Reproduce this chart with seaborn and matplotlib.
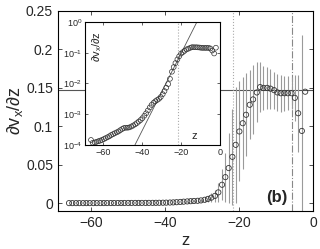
import matplotlib
matplotlib.use("Agg")
import matplotlib.pyplot as plt
import seaborn as sns
import numpy as np
from matplotlib.ticker import FormatStrFormatter, LogLocator, NullLocator

# --- data ---
z = [-66.0, -65.1, -64.1, -63.2, -62.2, -61.3, -60.4, -59.4, -58.5, -57.5,
     -56.6, -55.7, -54.7, -53.8, -52.8, -51.9, -51.0, -50.0, -49.1, -48.1,
     -47.2, -46.3, -45.3, -44.4, -43.4, -42.5, -41.6, -40.6, -39.7, -38.7,
     -37.8, -36.9, -35.9, -35.0, -34.0, -33.1, -32.2, -31.2, -30.3, -29.3,
     -28.4, -27.5, -26.5, -25.6, -24.6, -23.7, -22.8, -21.8, -20.9, -19.9,
     -19.0, -18.1, -17.1, -16.2, -15.2, -14.3, -13.4, -12.4, -11.5, -10.5,
     -9.6, -8.7, -7.7, -6.8, -5.8, -4.9, -4.0, -3.0, -2.1]

dvdz = [1.45e-4, 1.17e-4, 1.20e-4, 1.26e-4, 1.32e-4, 1.38e-4, 1.45e-4, 1.55e-4, 1.66e-4, 1.78e-4,
        1.91e-4, 2.09e-4, 2.24e-4, 2.40e-4, 2.57e-4, 2.75e-4, 3.02e-4, 3.31e-4, 3.55e-4, 3.63e-4,
        3.63e-4, 3.72e-4, 3.98e-4, 4.27e-4, 4.68e-4, 5.13e-4, 5.75e-4, 6.46e-4, 7.41e-4, 8.91e-4,
        1.07e-3, 1.32e-3, 1.66e-3, 2.00e-3, 2.34e-3, 2.63e-3, 2.88e-3, 3.16e-3, 3.63e-3, 4.47e-3,
        5.62e-3, 7.24e-3, 9.55e-3, 1.41e-2, 2.40e-2, 3.39e-2, 4.57e-2, 6.03e-2, 7.59e-2, 9.33e-2,
        0.104, 0.115, 0.128, 0.135, 0.144, 0.151, 0.150, 0.150, 0.149, 0.147,
        0.144, 0.143, 0.143, 0.143, 0.143, 0.137, 0.117, 0.094, 0.145]

err = [0, 0, 0, 0, 0, 0, 0, 0, 0, 0,
       0, 0, 0, 0, 0, 0, 0, 0, 0, 0,
       0, 0, 0, 0, 0, 0, 0, 0, 0, 0,
       0, 0, 0.0005, 0.0007, 0.0009, 0.001, 0.0012, 0.0015, 0.002, 0.003,
       0.004, 0.006, 0.008, 0.012, 0.02, 0.032, 0.045, 0.062, 0.075, 0.065,
       0.06, 0.054, 0.045, 0.045, 0.039, 0.032, 0.029, 0.027, 0.026, 0.024,
       0.024, 0.024, 0.023, 0.022, 0.021, 0.03, 0.05, 0.125, 0.0]

plateau = 0.147          # horizontal reference level
z_dotted = -21.6         # dotted vertical marker
z_dashed = -5.6          # dash-dot vertical marker
fit_z = [-43.5, -11.8]   # exponential guide in the inset
fit_v = [1e-4, 1.0]

sns.set_theme(style="ticks")
plt.rcParams["font.family"] = ["Liberation Sans", "DejaVu Sans"]
plt.rcParams["mathtext.default"] = "regular"
plt.rcParams["xtick.direction"] = "in"
plt.rcParams["ytick.direction"] = "in"
plt.rcParams["axes.edgecolor"] = "black"
plt.rcParams["axes.linewidth"] = 0.8

fig = plt.figure(figsize=(3.2, 2.49), dpi=100)
ax = fig.add_axes([0.181, 0.153, 0.797, 0.803])

ax.errorbar(z, dvdz, yerr=err, fmt="none", ecolor="#9a9a9a", elinewidth=0.8, capsize=0, zorder=1)
ax.axhline(plateau, color="#555555", lw=0.8, zorder=0)
ax.axvline(z_dotted, color="#aaaaaa", lw=0.8, ls=":", zorder=0)
ax.axvline(z_dashed, color="#888888", lw=0.8, ls="-.", zorder=0)
sns.scatterplot(x=z, y=dvdz, ax=ax, marker="o", s=14, facecolor="none",
                edgecolor="#333333", linewidth=0.6, zorder=3)

ax.set_xlim(-69, 0)
ax.set_ylim(-0.01, 0.25)
ax.set_xticks([-60, -40, -20, 0])
ax.set_yticks([0, 0.05, 0.1, 0.15, 0.2, 0.25])
ax.yaxis.set_major_formatter(FormatStrFormatter("%g"))
ax.tick_params(labelsize=10, length=3, width=0.6, top=True, right=True, color="#333333")
ax.set_xlabel("z", fontsize=12, labelpad=2)
ax.set_ylabel(r"$\partial v_x/\partial z$", fontsize=13, labelpad=1)
ax.text(0.90, 0.03, "(b)", transform=ax.transAxes, fontsize=12, fontweight="bold",
        ha="right", va="bottom")

# --- inset on log scale ---
ax_in = fig.add_axes([0.266, 0.418, 0.4215, 0.494])
ax_in.set_facecolor("white")
ax_in.set_yscale("log")
ax_in.axvline(z_dotted, color="#aaaaaa", lw=0.8, ls=":", zorder=0)
ax_in.plot(fit_z, fit_v, color="#555555", lw=0.6, zorder=1)
sns.scatterplot(x=z, y=dvdz, ax=ax_in, marker="o", s=12, facecolor="none",
                edgecolor="#333333", linewidth=0.5, zorder=3)
ax_in.set_xlim(-69, 0)
ax_in.set_ylim(1e-4, 1)
ax_in.set_xticks([-60, -40, -20, 0])
ax_in.yaxis.set_major_locator(LogLocator(base=10, numticks=10))
ax_in.yaxis.set_minor_locator(NullLocator())
ax_in.tick_params(labelsize=6.5, length=2, width=0.5, top=True, right=True, pad=2)
ax_in.text(0.09, 0.8, r"$\partial v_x/\partial z$", transform=ax_in.transAxes,
           rotation=90, fontsize=8, ha="center", va="center")
ax_in.text(0.81, 0.07, "z", transform=ax_in.transAxes, fontsize=8, ha="center", va="center")

fig.savefig("out.png", dpi=100)
